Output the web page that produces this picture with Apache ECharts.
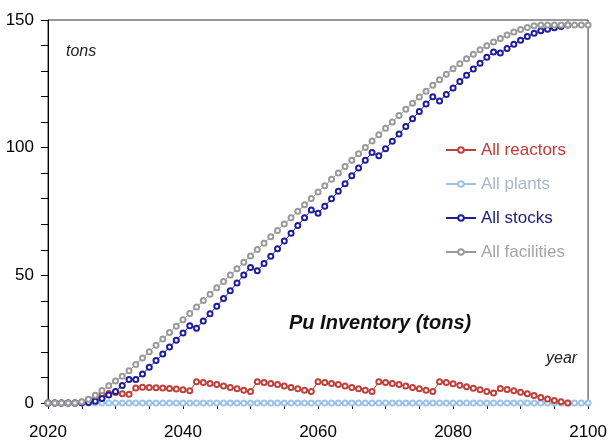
<!DOCTYPE html>
<html>
<head>
<meta charset="utf-8">
<script src="https://cdn.jsdelivr.net/npm/echarts@6/dist/echarts.min.js"></script>
<style>
  html, body { margin: 0; padding: 0; background: #fff; }
  #chart { width: 610px; height: 442px; }
</style>
</head>
<body>
<div id="chart"></div>
<script>
// Yearly plutonium inventory, 2020 to 2100 (one value per year, tons)
const startYear = 2020;
const xTicks = [2020, 2040, 2060, 2080, 2100];
const yTicks = [0, 50, 100, 150];
const seriesNames = ['All reactors', 'All plants', 'All stocks', 'All facilities'];

const reactors = [
  0, 0, 0, 0, 0, 0.4, 1.3, 2.3, 3.1, 3.7,
  4.1, 3.6, 3.4, 5.9, 6.2, 6.1, 6.0, 5.9, 5.7, 5.5,
  5.2, 4.8, 8.3, 8.0, 7.6, 7.2, 6.7, 6.1, 5.6, 5.0,
  4.5, 8.3, 8.0, 7.6, 7.2, 6.7, 6.1, 5.6, 5.0, 4.5,
  8.3, 8.0, 7.6, 7.2, 6.7, 6.1, 5.6, 5.0, 4.5, 8.3,
  8.0, 7.6, 7.2, 6.7, 6.1, 5.6, 5.0, 4.5, 8.3, 8.0,
  7.5, 7.0, 6.4, 5.8, 5.2, 4.5, 3.9, 5.7, 5.3, 4.8,
  4.2, 3.6, 2.9, 2.2, 1.6, 1.0, 0.5, 0.0, null, null,
  null
];

const plants = [
  0, 0, 0, 0, 0, 0, 0, 0, 0, 0,
  0, 0, 0, 0, 0, 0, 0, 0, 0, 0,
  0, 0, 0, 0, 0, 0, 0, 0, 0, 0,
  0, 0, 0, 0, 0, 0, 0, 0, 0, 0,
  0, 0, 0, 0, 0, 0, 0, 0, 0, 0,
  0, 0, 0, 0, 0, 0, 0, 0, 0, 0,
  0, 0, 0, 0, 0, 0, 0, 0, 0, 0,
  0, 0, 0, 0, 0, 0, 0, 0, 0, 0,
  0
];

const stocks = [
  0, 0, 0, 0, 0, 0.1, 0.2, 0.7, 1.8, 3.1,
  4.5, 6.9, 9.2, 9.2, 11.4, 14.0, 16.6, 19.2, 21.9, 24.6,
  27.4, 30.3, 29.3, 32.1, 35.0, 37.9, 40.9, 44.0, 47.0, 50.1,
  53.1, 51.8, 54.6, 57.5, 60.4, 63.4, 66.5, 69.5, 72.6, 75.6,
  74.3, 77.1, 80.0, 82.9, 85.9, 89.0, 92.0, 95.1, 98.1, 96.8,
  99.6, 102.5, 105.4, 108.3, 111.3, 114.2, 117.1, 119.9, 118.3, 120.8,
  123.4, 125.9, 128.4, 130.8, 133.1, 135.4, 137.5, 137.1, 138.8, 140.5,
  142.1, 143.5, 144.8, 145.8, 146.4, 147.0, 147.5, 148.0, null, null,
  null
];

const facilities = [
  0, 0, 0, 0, 0, 0.5, 1.5, 3.0, 4.9, 6.8,
  8.6, 10.5, 12.6, 15.1, 17.6, 20.1, 22.6, 25.1, 27.6, 30.1,
  32.6, 35.1, 37.6, 40.1, 42.6, 45.1, 47.6, 50.1, 52.6, 55.1,
  57.6, 60.1, 62.6, 65.1, 67.6, 70.1, 72.6, 75.1, 77.6, 80.1,
  82.6, 85.1, 87.6, 90.1, 92.6, 95.1, 97.6, 100.1, 102.6, 105.1,
  107.6, 110.1, 112.6, 115.0, 117.4, 119.8, 122.1, 124.4, 126.6, 128.8,
  130.9, 132.9, 134.8, 136.6, 138.3, 139.9, 141.4, 142.8, 144.1, 145.3,
  146.3, 147.1, 147.7, 148.0, 148.0, 148.0, 148.0, 148.0, 148.0, 148.0,
  148.0
];

const FONT = '"Liberation Sans", Arial, sans-serif';

function pairs(values) {
  return values.map((v, i) => [startYear + i, v]);
}

function lineSeries(name, values, color, z, extraItem) {
  return {
    name: name,
    type: 'line',
    data: pairs(values),
    z: z,
    symbol: 'emptyCircle',
    symbolSize: 5,
    showAllSymbol: true,
    connectNulls: false,
    silent: true,
    lineStyle: { color: color, width: 1 },
    itemStyle: Object.assign({ color: color, borderColor: color, borderWidth: 1 }, extraItem || {}),
    emphasis: { disabled: true }
  };
}

const chart = echarts.init(document.getElementById('chart'), null, { renderer: 'canvas' });

chart.setOption({
  animation: false,
  backgroundColor: '#ffffff',
  grid: {
    left: 48, right: 17, top: 20, bottom: 39,
    show: true, borderColor: '#333333', borderWidth: 1, backgroundColor: 'transparent'
  },
  xAxis: {
    type: 'value',
    min: xTicks[0],
    max: xTicks[xTicks.length - 1],
    interval: xTicks[1] - xTicks[0],
    axisLine: { show: true, onZero: false, lineStyle: { color: '#000', width: 1 } },
    axisTick: { show: true, inside: false, length: 6, lineStyle: { color: '#000' } },
    minorTick: { show: true, splitNumber: 4, length: 6, lineStyle: { color: '#000' } },
    splitLine: { show: false },
    minorSplitLine: { show: false },
    axisLabel: {
      color: '#000', fontFamily: FONT, fontSize: 17, margin: 21,
      formatter: v => String(v)
    }
  },
  yAxis: {
    type: 'value',
    min: yTicks[0],
    max: yTicks[yTicks.length - 1],
    interval: yTicks[1] - yTicks[0],
    axisLine: { show: true, lineStyle: { color: '#000', width: 1 } },
    axisTick: { show: true, inside: false, length: 7, lineStyle: { color: '#000' } },
    minorTick: { show: true, splitNumber: 5, length: 7, lineStyle: { color: '#000' } },
    splitLine: { show: false },
    minorSplitLine: { show: false },
    axisLabel: {
      color: '#000', fontFamily: FONT, fontSize: 17, margin: 14,
      formatter: v => String(v)
    }
  },
  legend: {
    orient: 'vertical',
    left: 440,
    top: 135,
    itemWidth: 30,
    itemHeight: 7,
    itemGap: 14,
    selectedMode: false,
    textStyle: { fontFamily: FONT, fontSize: 17, lineHeight: 20 },
    data: [
      { name: seriesNames[0], textStyle: { color: '#c33a32' } },
      { name: seriesNames[1], textStyle: { color: '#a9b6d2' } },
      { name: seriesNames[2], textStyle: { color: '#1c1c80' } },
      { name: seriesNames[3], textStyle: { color: '#a4a4a4' } }
    ]
  },
  graphic: [
    {
      type: 'text', left: 66, top: 44, silent: true,
      style: { text: 'tons', fill: '#222', font: 'italic 16px ' + FONT }
    },
    {
      type: 'text', left: 546, top: 351, silent: true,
      style: { text: 'year', fill: '#222', font: 'italic 16px ' + FONT }
    },
    {
      type: 'text', left: 289, top: 313, silent: true,
      style: { text: 'Pu Inventory (tons)', fill: '#111', font: 'italic bold 20px ' + FONT }
    }
  ],
  series: [
    lineSeries(seriesNames[1], plants, '#9cc3ea', 2),
    lineSeries(seriesNames[0], reactors, '#c0403a', 3),
    lineSeries(seriesNames[2], stocks, '#1e1e9c', 4, { borderWidth: 1.5 }),
    lineSeries(seriesNames[3], facilities, '#9a9a9a', 5)
  ]
});
</script>
</body>
</html>
